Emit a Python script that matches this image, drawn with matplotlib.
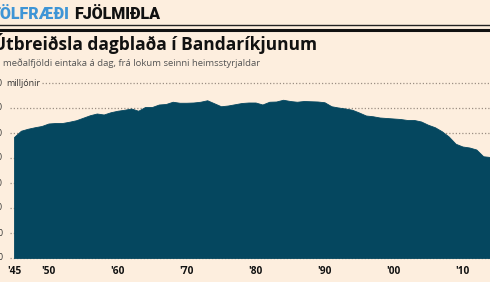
import matplotlib
matplotlib.use("Agg")
import matplotlib.pyplot as plt
from matplotlib.lines import Line2D

years = list(range(1945, 2015))
circulation = [48.4, 50.9, 51.7, 52.3, 52.8, 53.8, 54.0, 54.0, 54.5, 55.1,
               56.1, 57.1, 57.8, 57.4, 58.3, 58.9, 59.3, 59.8, 58.9, 60.4,
               60.4, 61.4, 61.6, 62.5, 62.1, 62.1, 62.2, 62.5, 63.1, 61.9,
               60.7, 61.0, 61.5, 62.0, 62.2, 62.2, 61.4, 62.5, 62.6, 63.3,
               62.8, 62.5, 62.8, 62.7, 62.6, 62.3, 60.7, 60.2, 59.8, 59.3,
               58.2, 57.0, 56.7, 56.2, 56.0, 55.8, 55.6, 55.2, 55.2, 54.6,
               53.3, 52.3, 50.7, 48.6, 45.7, 44.6, 44.2, 43.4, 40.7, 40.4]
y_ticks = [0, 10, 20, 30, 40, 50, 60, 70]
x_ticks = [1945, 1950, 1960, 1970, 1980, 1990, 2000, 2010]
x_labels = ["'45", "'50", "'60", "'70", "'80", "'90", "'00", "'10"]

W, H = 490, 282
BG = "#fdeede"
AREA = "#05475f"
GRID = "#9c8f84"

fig = plt.figure(figsize=(W / 100, H / 100), dpi=100, facecolor=BG)

def fx(px):
    return px / W

def fy(py):
    return 1 - py / H

ax = fig.add_axes([0, fy(258), 1, (258 - 83) / H])
ax.set_facecolor("none")
px_per_year = 6.9
ax.set_xlim(1945 - 14 / px_per_year, 1945 + (W - 14) / px_per_year)
ax.set_ylim(0, 70)
ax.axis("off")

for v in y_ticks:
    start = 42 / W if v == 70 else 10 / W
    ax.axhline(v, xmin=start, xmax=1, color=GRID, lw=0.9,
               linestyle=(0, (1, 1.6)), zorder=1, clip_on=False)

ax.fill_between(years, circulation, 0, color=AREA, lw=0.6,
                edgecolor=AREA, zorder=2)

for v in y_ticks:
    ax.text(3 / W, v, str(v), transform=ax.get_yaxis_transform(),
            ha="right", va="center", fontsize=6.3, color="#333333",
            family="Open Sans")
ax.text(6 / W, 70, "milljónir", transform=ax.get_yaxis_transform(),
        ha="left", va="center", fontsize=6.5, color="#333333",
        family="Open Sans")

for x, lab in zip(x_ticks, x_labels):
    fig.text(fx(14 + (x - 1945) * px_per_year), fy(271), lab,
             ha="center", va="center", fontsize=7.3, color="#111111",
             family="Open Sans", fontweight="bold")

t1 = fig.text(fx(-9), fy(19), "TÖLFRÆÐI", ha="left", va="baseline",
              fontsize=11.5, color="#3f95d6", family="Roboto",
              fontweight="heavy")
fig.canvas.draw()
bb = t1.get_window_extent()
fig.text((bb.x1 + 4) / W, fy(19), "FJÖLMIÐLA", ha="left", va="baseline",
         fontsize=11.5, color="#111111", family="Roboto", fontweight="heavy")

fig.add_artist(Line2D([0, 1], [fy(25.3), fy(25.3)], color="#222222", lw=1.0,
                      transform=fig.transFigure))
fig.add_artist(Line2D([0, 1], [fy(30), fy(30)], color="#111111", lw=2.2,
                      transform=fig.transFigure))

fig.text(fx(-7), fy(50), "Útbreiðsla dagblaða í Bandaríkjunum", ha="left",
         va="baseline", fontsize=12.5, color="#111111", family="Open Sans",
         fontweight="bold")
fig.text(fx(3), fy(66), "meðalfjöldi eintaka á dag, frá lokum seinni heimsstyrjaldar",
         ha="left", va="baseline", fontsize=6.8, color="#555555",
         family="Open Sans")

fig.savefig("out.png", dpi=100, facecolor=BG)
